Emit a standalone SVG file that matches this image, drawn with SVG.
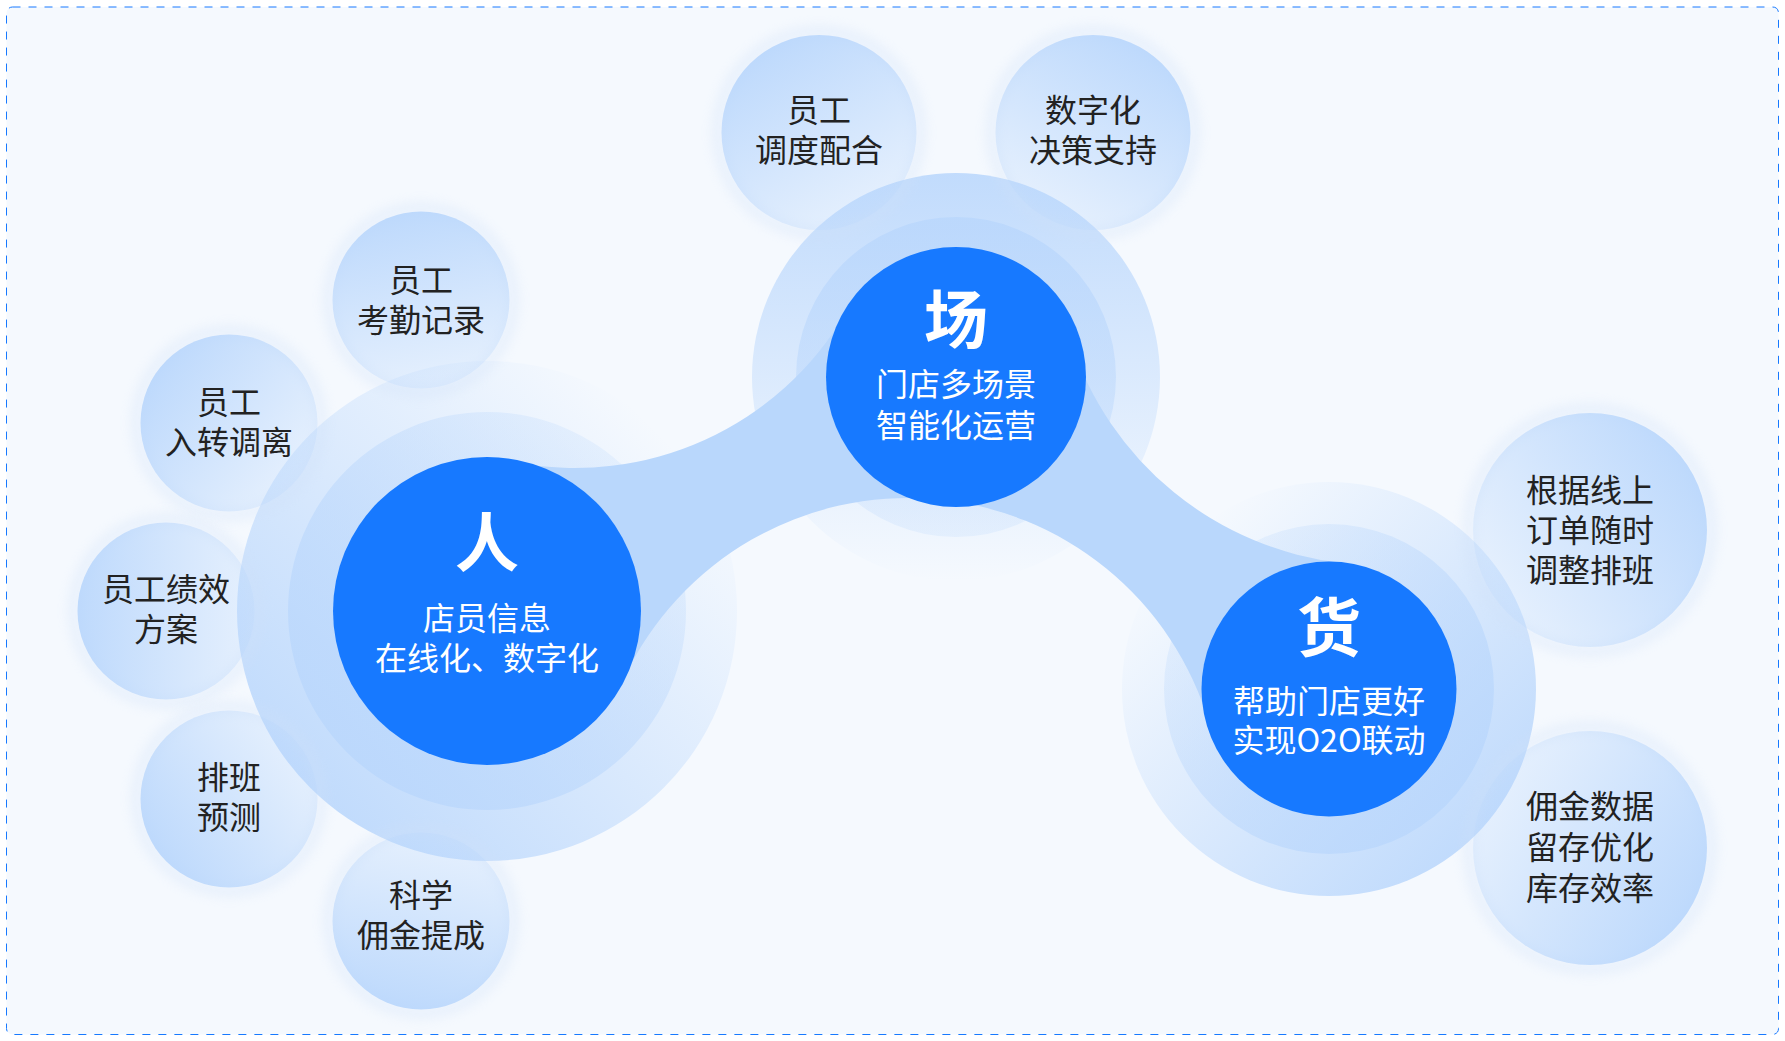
<svg xmlns="http://www.w3.org/2000/svg" width="1785" height="1041" viewBox="0 0 1785 1041">
<style>
.st{font-family:"Noto Sans CJK SC","Noto Sans",sans-serif;font-size:32px;fill:#222;text-anchor:middle}
.mt{font-family:"Noto Sans CJK SC","Noto Sans",sans-serif;font-size:32px;fill:#fff;text-anchor:middle}
.tt{font-family:"Noto Sans CJK SC","Noto Sans",sans-serif;font-size:64px;font-weight:700;fill:#fff;text-anchor:middle}
.core{fill:#1779ff}
.halo{fill:none;stroke:#cfe0f8;stroke-width:12;opacity:0.35}
.band{fill:#b9d7fc}
</style>
<defs>
<filter id="soft" x="-30%" y="-30%" width="160%" height="160%"><feGaussianBlur stdDeviation="6"/></filter>
<linearGradient id="rOutL" x1="0.15" y1="0.85" x2="0.85" y2="0.15"><stop offset="0" stop-color="#b8d6fc" stop-opacity="0.85"/><stop offset="1" stop-color="#b8d6fc" stop-opacity="0"/></linearGradient>
<linearGradient id="rInL" x1="0.15" y1="0.85" x2="0.85" y2="0.15"><stop offset="0" stop-color="#b8d6fc" stop-opacity="0.75"/><stop offset="1" stop-color="#b8d6fc" stop-opacity="0.22"/></linearGradient>
<linearGradient id="rOutT" x1="0.5" y1="0" x2="0.5" y2="1"><stop offset="0" stop-color="#b8d6fc" stop-opacity="0.85"/><stop offset="1" stop-color="#b8d6fc" stop-opacity="0"/></linearGradient>
<linearGradient id="rInT" x1="0.5" y1="0" x2="0.5" y2="1"><stop offset="0" stop-color="#b8d6fc" stop-opacity="0.75"/><stop offset="1" stop-color="#b8d6fc" stop-opacity="0.22"/></linearGradient>
<linearGradient id="rOutR" x1="0.85" y1="0.85" x2="0.15" y2="0.15"><stop offset="0" stop-color="#b8d6fc" stop-opacity="0.85"/><stop offset="1" stop-color="#b8d6fc" stop-opacity="0"/></linearGradient>
<linearGradient id="rInR" x1="0.85" y1="0.85" x2="0.15" y2="0.15"><stop offset="0" stop-color="#b8d6fc" stop-opacity="0.75"/><stop offset="1" stop-color="#b8d6fc" stop-opacity="0.22"/></linearGradient>
<linearGradient id="s1" x1="0.396" y1="0.011" x2="0.604" y2="0.989"><stop offset="0" stop-color="#b8d6fc" stop-opacity="0.9"/><stop offset="1" stop-color="#b8d6fc" stop-opacity="0.25"/></linearGradient>
<linearGradient id="s2" x1="0.095" y1="0.205" x2="0.905" y2="0.795"><stop offset="0" stop-color="#b8d6fc" stop-opacity="0.9"/><stop offset="1" stop-color="#b8d6fc" stop-opacity="0.25"/></linearGradient>
<linearGradient id="s3" x1="0" y1="0.5" x2="1" y2="0.5"><stop offset="0" stop-color="#b8d6fc" stop-opacity="0.9"/><stop offset="1" stop-color="#b8d6fc" stop-opacity="0.25"/></linearGradient>
<linearGradient id="s4" x1="0.095" y1="0.795" x2="0.905" y2="0.205"><stop offset="0" stop-color="#b8d6fc" stop-opacity="0.9"/><stop offset="1" stop-color="#b8d6fc" stop-opacity="0.25"/></linearGradient>
<linearGradient id="s5" x1="0.396" y1="0.989" x2="0.604" y2="0.011"><stop offset="0" stop-color="#b8d6fc" stop-opacity="0.9"/><stop offset="1" stop-color="#b8d6fc" stop-opacity="0.25"/></linearGradient>
<linearGradient id="s6" x1="0.256" y1="0.064" x2="0.744" y2="0.936"><stop offset="0" stop-color="#b8d6fc" stop-opacity="0.9"/><stop offset="1" stop-color="#b8d6fc" stop-opacity="0.25"/></linearGradient>
<linearGradient id="s7" x1="0.744" y1="0.064" x2="0.256" y2="0.936"><stop offset="0" stop-color="#b8d6fc" stop-opacity="0.9"/><stop offset="1" stop-color="#b8d6fc" stop-opacity="0.25"/></linearGradient>
<linearGradient id="s8" x1="0.927" y1="0.24" x2="0.073" y2="0.76"><stop offset="0" stop-color="#b8d6fc" stop-opacity="0.9"/><stop offset="1" stop-color="#b8d6fc" stop-opacity="0.25"/></linearGradient>
<linearGradient id="s9" x1="0.927" y1="0.76" x2="0.073" y2="0.24"><stop offset="0" stop-color="#b8d6fc" stop-opacity="0.9"/><stop offset="1" stop-color="#b8d6fc" stop-opacity="0.25"/></linearGradient>
</defs>

<rect x="0" y="0" width="1785" height="1041" fill="#ffffff"/>
<rect x="6.5" y="7" width="1772" height="1027.5" rx="6" fill="#f5f9fe" stroke="#1779ff" stroke-width="1" stroke-dasharray="8 8"/>

<g id="halos">
  <g id="halo-ren">
    <circle cx="487" cy="611" r="250" fill="url(#rOutL)"/>
    <circle cx="487" cy="611" r="199" fill="url(#rInL)"/>
  </g>
  <g id="halo-chang">
    <circle cx="956" cy="377" r="204" fill="url(#rOutT)"/>
    <circle cx="956" cy="377" r="160" fill="url(#rInT)"/>
  </g>
  <g id="halo-huo">
    <circle cx="1329" cy="689" r="207" fill="url(#rOutR)"/>
    <circle cx="1329" cy="689" r="165" fill="url(#rInR)"/>
  </g>
</g>

<g id="satellites">
  <g id="sat-kaoqin">
    <circle class="halo" cx="421" cy="300" r="92" filter="url(#soft)"/>
    <circle cx="421" cy="300" r="88.5" fill="url(#s1)"/>
    <text class="st" x="421" y="292"><tspan x="421" y="292">员工</tspan><tspan x="421" y="332">考勤记录</tspan></text>
  </g>
  <g id="sat-ruzhuan">
    <circle class="halo" cx="229" cy="423" r="92" filter="url(#soft)"/>
    <circle cx="229" cy="423" r="88.5" fill="url(#s2)"/>
    <text class="st" x="229" y="414"><tspan x="229" y="414">员工</tspan><tspan x="229" y="454">入转调离</tspan></text>
  </g>
  <g id="sat-jixiao">
    <circle class="halo" cx="166" cy="611" r="92" filter="url(#soft)"/>
    <circle cx="166" cy="611" r="88.5" fill="url(#s3)"/>
    <text class="st" x="166" y="601"><tspan x="166" y="601">员工绩效</tspan><tspan x="166" y="641">方案</tspan></text>
  </g>
  <g id="sat-paiban">
    <circle class="halo" cx="229" cy="799" r="92" filter="url(#soft)"/>
    <circle cx="229" cy="799" r="88.5" fill="url(#s4)"/>
    <text class="st" x="229" y="789"><tspan x="229" y="789">排班</tspan><tspan x="229" y="829">预测</tspan></text>
  </g>
  <g id="sat-yongjin">
    <circle class="halo" cx="421" cy="921" r="92" filter="url(#soft)"/>
    <circle cx="421" cy="921" r="88.5" fill="url(#s5)"/>
    <text class="st" x="421" y="907"><tspan x="421" y="907">科学</tspan><tspan x="421" y="947">佣金提成</tspan></text>
  </g>
  <g id="sat-diaodu">
    <circle class="halo" cx="819" cy="132.5" r="101" filter="url(#soft)"/>
    <circle cx="819" cy="132.5" r="97.5" fill="url(#s6)"/>
    <text class="st" x="819" y="122"><tspan x="819" y="122">员工</tspan><tspan x="819" y="162">调度配合</tspan></text>
  </g>
  <g id="sat-juece">
    <circle class="halo" cx="1093" cy="132.5" r="101" filter="url(#soft)"/>
    <circle cx="1093" cy="132.5" r="97.5" fill="url(#s7)"/>
    <text class="st" x="1093" y="122"><tspan x="1093" y="122">数字化</tspan><tspan x="1093" y="162">决策支持</tspan></text>
  </g>
  <g id="sat-genju">
    <circle class="halo" cx="1590" cy="530" r="121" filter="url(#soft)"/>
    <circle cx="1590" cy="530" r="117" fill="url(#s8)"/>
    <text class="st" x="1590" y="502"><tspan x="1590" y="502">根据线上</tspan><tspan x="1590" y="542">订单随时</tspan><tspan x="1590" y="582">调整排班</tspan></text>
  </g>
  <g id="sat-kucun">
    <circle class="halo" cx="1590" cy="848" r="121" filter="url(#soft)"/>
    <circle cx="1590" cy="848" r="117" fill="url(#s9)"/>
    <text class="st" x="1590" y="818"><tspan x="1590" y="818">佣金数据</tspan><tspan x="1590" y="859">留存优化</tspan><tspan x="1590" y="900">库存效率</tspan></text>
  </g>
</g>

<g id="connectors">
  <path class="band" d="M515.6 462.3 A314 314 0 0 0 846 312.6 L956 377 L1070.4 340.4 A323 323 0 0 0 1342.8 563 L1329 689 L1209.4 724 A314 314 0 0 0 624.6 676.7 L487 611 Z"/>
</g>

<g id="node-ren">
  <circle class="core" cx="487" cy="611" r="154"/>
  <text class="tt" x="487" y="566">人</text>
  <text class="mt" x="487" y="630"><tspan x="487" y="630">店员信息</tspan><tspan x="487" y="670">在线化、数字化</tspan></text>
</g>
<g id="node-chang">
  <circle class="core" cx="956" cy="377" r="130"/>
  <text class="tt" x="956" y="343">场</text>
  <text class="mt" x="956" y="396"><tspan x="956" y="396">门店多场景</tspan><tspan x="956" y="437">智能化运营</tspan></text>
</g>
<g id="node-huo">
  <circle class="core" cx="1329" cy="689" r="127.5"/>
  <text class="tt" x="1329" y="651">货</text>
  <text class="mt" x="1329" y="713"><tspan x="1329" y="713">帮助门店更好</tspan><tspan x="1329" y="752">实现O2O联动</tspan></text>
</g>
</svg>
